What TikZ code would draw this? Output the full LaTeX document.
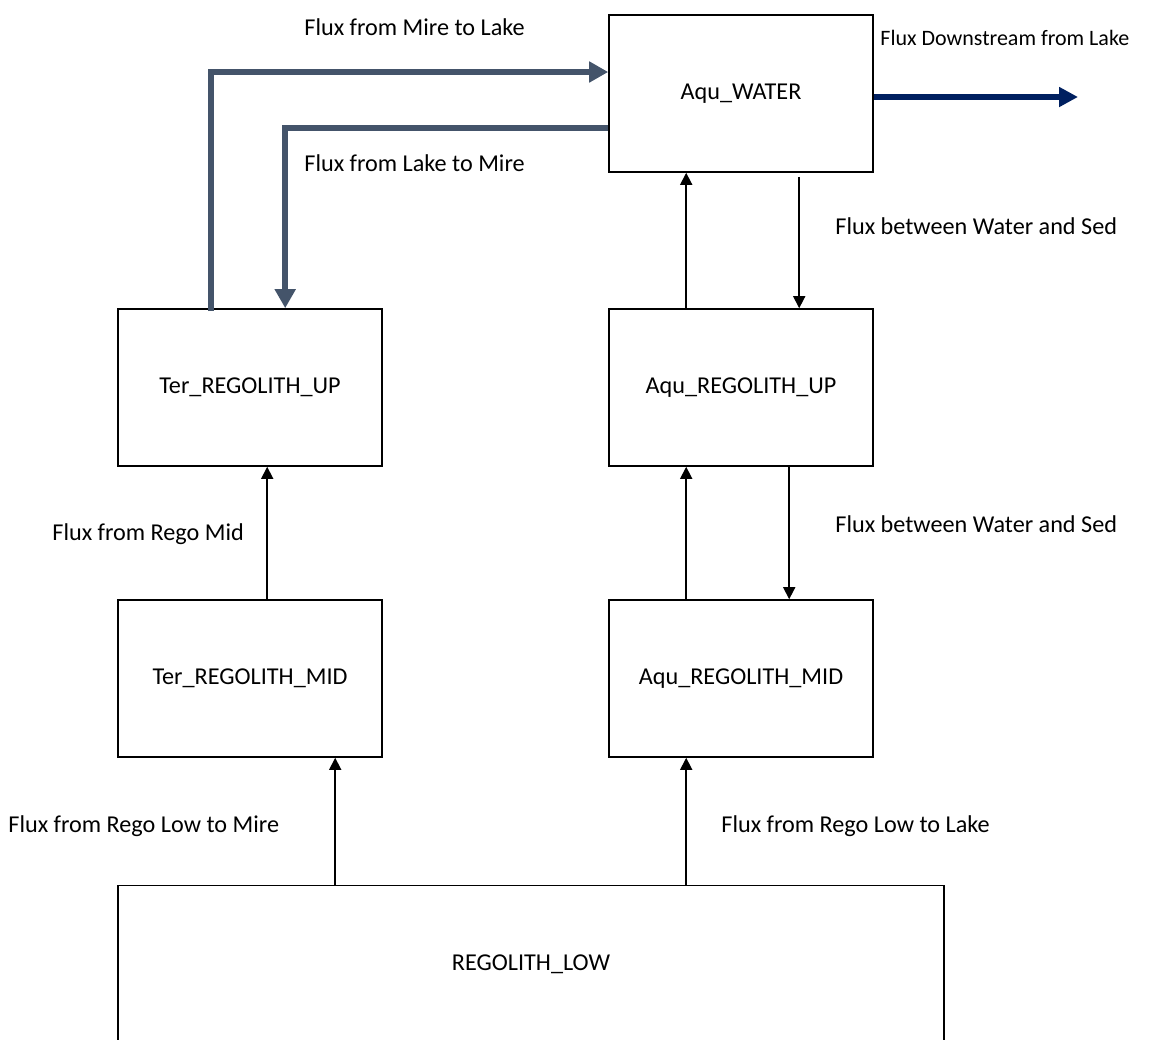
\documentclass[tikz,border=0pt]{standalone}
\usepackage{fontspec}
\setmainfont{Carlito}
\usetikzlibrary{arrows.meta}
\definecolor{fluxgray}{HTML}{44546A}
\definecolor{fluxnavy}{HTML}{002060}
\begin{document}
\begin{tikzpicture}[x=0.5pt,y=-0.5pt,font=\fontsize{12.1}{14}\selectfont,
	pool/.style={draw,line width=0.8pt,minimum width=132pt,minimum height=78.5pt,inner sep=0pt},
	lbl/.style={anchor=west,inner sep=0pt},
	thinflux/.style={line width=0.8pt,-{Triangle[length=6pt,width=6pt]}},
	bigflux/.style={line width=3pt,fluxgray,-{Triangle[length=9.5pt,width=10pt]}}]
	\useasboundingbox (0,0) rectangle (1160,1039);
	% Compartments
	\node[pool] (water) at (741,93.5) {Aqu\_WATER};
	\node[pool] (terup) at (250,387.5) {Ter\_REGOLITH\_UP};
	\node[pool] (aquup) at (741,387.5) {Aqu\_REGOLITH\_UP};
	\node[pool] (termid) at (250,678.5) {Ter\_REGOLITH\_MID};
	\node[pool] (aqumid) at (741,678.5) {Aqu\_REGOLITH\_MID};
	\node[pool,minimum width=413pt] (low) at (531,964) {REGOLITH\_LOW};
	\coordinate (outlet) at (1078,97);
	% Exchange between lake and mire
	\draw[bigflux] ([xshift=47pt,yshift=-1.5pt]terup.north west) |- ([yshift=10.75pt]water.west);
	\draw[bigflux] ([yshift=-17.25pt]water.west) -| ([xshift=84pt]terup.north west);
	\draw[line width=3pt,fluxnavy,-{Triangle[length=9.5pt,width=9.5pt]}] ([yshift=-1.75pt]water.east) -- (outlet);
	% Vertical fluxes
	\draw[thinflux] ([xshift=39pt]aquup.north west) -- ([xshift=39pt]water.south west);
	\draw[thinflux] ([xshift=95.5pt,yshift=-2pt]water.south west) -- ([xshift=95.5pt]aquup.north west);
	\draw[thinflux] ([xshift=39pt]aqumid.north west) -- ([xshift=39pt]aquup.south west);
	\draw[thinflux] ([xshift=90.5pt]aquup.south west) -- ([xshift=90.5pt]aqumid.north west);
	\draw[thinflux] ([xshift=75pt]termid.north west) -- ([xshift=75pt]terup.south west);
	\draw[thinflux] ([xshift=109pt]low.north west) -- ([xshift=109pt]termid.south west);
	\draw[thinflux] ([xshift=284.5pt]low.north west) -- ([xshift=39pt]aqumid.south west);
	% Labels
	\node[lbl] (lmirelake) at (304,27) {Flux from Mire to Lake};
	\node[lbl,font=\fontsize{11}{13}\selectfont] (ldown) at (880,38) {Flux Downstream from Lake};
	\node[lbl] (llakemire) at (304,163) {Flux from Lake to Mire};
	\node[lbl] (lwatsed) at (835,226) {Flux between Water and Sed};
	\node[lbl] (lregomid) at (52,534) {Flux from Rego Mid};
	\node[lbl] (lwatsed2) at (835,524) {Flux between Water and Sed};
	\node[lbl] (llowmire) at (8,826) {Flux from Rego Low to Mire};
	\node[lbl] (llowlake) at (721,826) {Flux from Rego Low to Lake};
\end{tikzpicture}
\end{document}
